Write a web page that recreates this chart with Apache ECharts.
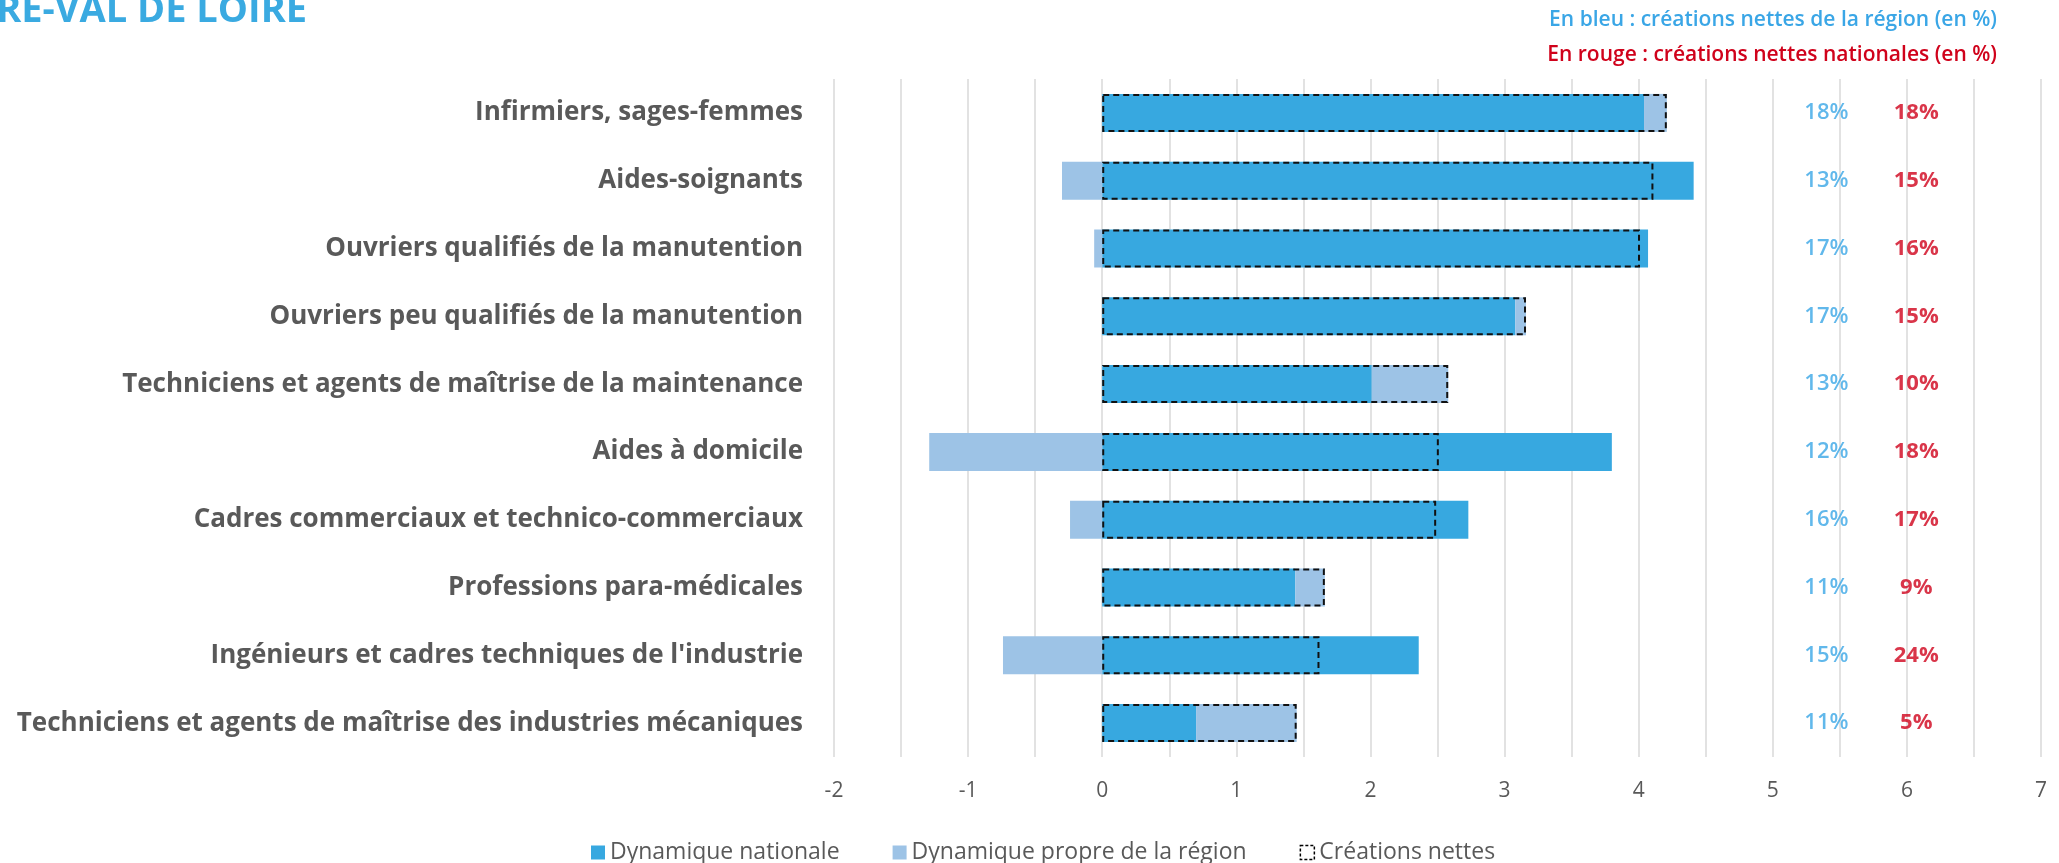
<!DOCTYPE html>
<html>
<head>
<meta charset="utf-8">
<script src="https://cdn.jsdelivr.net/npm/echarts@6/dist/echarts.min.js"></script>
<style>
html,body{margin:0;padding:0;background:#fff;}
#c{width:2059px;height:863px;}
</style>
</head>
<body>
<div id="c"></div>
<script>
const categories = [
  "Infirmiers, sages-femmes",
  "Aides-soignants",
  "Ouvriers qualifiés de la manutention",
  "Ouvriers peu qualifiés de la manutention",
  "Techniciens et agents de maîtrise de la maintenance",
  "Aides à domicile",
  "Cadres commerciaux et technico-commerciaux",
  "Professions para-médicales",
  "Ingénieurs et cadres techniques de l'industrie",
  "Techniciens et agents de maîtrise des industries mécaniques"
];
const dynamiqueNationale = [4.04, 4.41, 4.07, 3.08, 2.01, 3.80, 2.73, 1.44, 2.36, 0.70];
const dynamiqueRegion    = [0.17, -0.30, -0.06, 0.08, 0.57, -1.29, -0.24, 0.22, -0.74, 0.75];
const creationsNettes    = [4.21, 4.11, 4.01, 3.16, 2.58, 2.51, 2.49, 1.66, 1.62, 1.45];
const pctRegion   = ["18%", "13%", "17%", "17%", "13%", "12%", "16%", "11%", "15%", "11%"];
const pctNational = ["18%", "15%", "16%", "15%", "10%", "18%", "17%", "9%", "24%", "5%"];
const xTicks = { min: -2, max: 7, step: 0.5 };

const FONT = "'Open Sans', Lato, sans-serif";
const BLUE = "#37A8E0", LIGHT = "#9DC3E6", GRAY = "#595959";
const TXT_BLUE = "#3AA6E6", TXT_RED = "#D0021B";

const chart = echarts.init(document.getElementById('c'), null, {renderer: 'canvas'});
const colRegionX = 5.40, colNationalX = 6.07;

chart.setOption({
  animation: false,
  backgroundColor: '#fff',
  textStyle: { fontFamily: FONT },
  grid: { left: 834, right: 18, top: 79, bottom: 106, containLabel: false },
  xAxis: {
    type: 'value', min: xTicks.min, max: xTicks.max, interval: xTicks.step,
    axisLine: { show: false }, axisTick: { show: false },
    splitLine: { show: true, lineStyle: { color: '#D9D9D9', width: 1.5 } },
    axisLabel: {
      margin: 24, color: GRAY, fontSize: 21, fontFamily: FONT,
      formatter: v => (Math.abs(v - Math.round(v)) < 1e-9 ? String(Math.round(v)) : '')
    }
  },
  yAxis: {
    type: 'category', data: categories, inverse: true,
    axisLine: { show: false }, axisTick: { show: false },
    axisLabel: { margin: 31, color: GRAY, fontSize: 26, fontWeight: 'bold', fontFamily: FONT }
  },
  legend: {
    left: 586, top: 836, itemWidth: 14, itemHeight: 14, itemGap: 53,
    icon: 'rect',
    textStyle: { color: GRAY, fontSize: 23, fontFamily: FONT },
    data: [
      { name: 'Dynamique nationale' },
      { name: 'Dynamique propre de la région' },
      { name: 'Créations nettes', itemStyle: { color: '#fff', borderColor: '#000', borderWidth: 1.5, borderType: [3, 2] } }
    ]
  },
  graphic: [
    { type: 'text', right: 2059 - 307, top: -8, style: { text: 'CENTRE-VAL DE LOIRE', fill: '#3AAAE1', font: "bold 38px " + FONT } },
    { type: 'text', right: 62, top: 10, style: { text: 'En bleu : créations nettes de la région (en %)', fill: TXT_BLUE, font: "600 21px " + FONT } },
    { type: 'text', right: 62, top: 45, style: { text: 'En rouge : créations nettes nationales (en %)', fill: TXT_RED, font: "600 21px " + FONT } }
  ],
  series: [
    { name: 'Dynamique nationale', type: 'bar', stack: 'dyn', barWidth: 38, barGap: '-100%',
      itemStyle: { color: BLUE }, data: dynamiqueNationale },
    { name: 'Dynamique propre de la région', type: 'bar', stack: 'dyn', barWidth: 38, barGap: '-100%',
      itemStyle: { color: LIGHT }, data: dynamiqueRegion },
    { name: 'Créations nettes', type: 'bar', barWidth: 38, barGap: '-100%', z: 5,
      itemStyle: { color: 'rgba(0,0,0,0)', borderColor: '#111', borderWidth: 2, borderType: [6, 4] },
      data: creationsNettes },
    { name: 'pctRegion', type: 'scatter', symbolSize: 0, silent: true,
      data: categories.map((c, i) => [colRegionX, c]),
      label: { show: true, position: 'inside', color: TXT_BLUE, fontSize: 22, fontWeight: 600, fontFamily: FONT,
        formatter: p => pctRegion[p.dataIndex] } },
    { name: 'pctNational', type: 'scatter', symbolSize: 0, silent: true,
      data: categories.map((c, i) => [colNationalX, c]),
      label: { show: true, position: 'inside', color: TXT_RED, fontSize: 22, fontWeight: 'bold', fontFamily: FONT,
        formatter: p => pctNational[p.dataIndex] } }
  ]
});
</script>
</body>
</html>
